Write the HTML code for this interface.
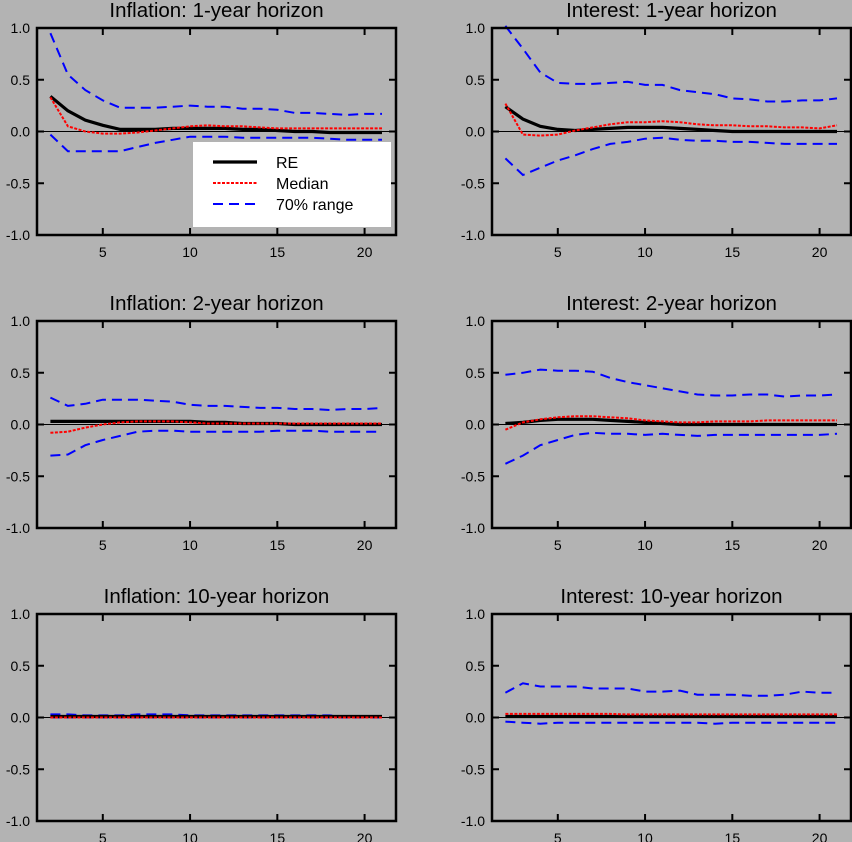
<!DOCTYPE html>
<html><head><meta charset="utf-8">
<style>
html,body{margin:0;padding:0;background:#b3b3b3;}
svg{display:block;font-family:"Liberation Sans",Arial,sans-serif;}
</style></head>
<body>
<svg id="fig" width="852" height="842" viewBox="0 0 852 842" xmlns="http://www.w3.org/2000/svg">
<rect x="0" y="0" width="852" height="842" fill="#b3b3b3"/>
</svg>
<script>
const horizons = [2,3,4,5,6,7,8,9,10,11,12,13,14,15,16,17,18,19,20,21];
const xTicks = [5,10,15,20];
const yTicks = [1.0,0.5,0.0,-0.5,-1.0];
const yTickLabels = ["1.0","0.5","0.0","-0.5","-1.0"];
const panelTitles = ["Inflation: 1-year horizon","Interest: 1-year horizon","Inflation: 2-year horizon","Interest: 2-year horizon","Inflation: 10-year horizon","Interest: 10-year horizon"];

const infl1RE = [0.34,0.2,0.11,0.06,0.02,0.02,0.02,0.03,0.03,0.03,0.03,0.02,0.02,0.01,0.0,0.0,-0.01,-0.01,-0.01,-0.01];
const infl1Med = [0.33,0.05,0.0,-0.02,-0.02,-0.01,0.01,0.03,0.05,0.06,0.05,0.05,0.04,0.03,0.03,0.03,0.03,0.03,0.03,0.03];
const infl1Up = [0.95,0.55,0.4,0.3,0.23,0.23,0.23,0.24,0.25,0.24,0.24,0.22,0.22,0.21,0.18,0.18,0.17,0.16,0.17,0.17];
const infl1Lo = [-0.03,-0.19,-0.19,-0.19,-0.19,-0.15,-0.11,-0.08,-0.05,-0.05,-0.05,-0.06,-0.06,-0.06,-0.06,-0.06,-0.07,-0.08,-0.08,-0.08];

const int1RE = [0.24,0.12,0.05,0.02,0.01,0.02,0.03,0.04,0.04,0.04,0.03,0.02,0.01,0.0,0.0,0.0,0.0,0.0,0.0,0.0];
const int1Med = [0.27,-0.03,-0.04,-0.03,0.01,0.04,0.07,0.09,0.09,0.1,0.09,0.07,0.06,0.06,0.05,0.05,0.04,0.04,0.03,0.06];
const int1Up = [1.02,0.8,0.57,0.47,0.46,0.46,0.47,0.48,0.45,0.45,0.4,0.38,0.36,0.32,0.31,0.29,0.29,0.3,0.3,0.32];
const int1Lo = [-0.26,-0.42,-0.35,-0.28,-0.23,-0.17,-0.12,-0.1,-0.07,-0.06,-0.08,-0.09,-0.09,-0.1,-0.1,-0.11,-0.12,-0.12,-0.12,-0.12];

const infl2RE = [0.03,0.03,0.03,0.03,0.03,0.03,0.03,0.03,0.03,0.02,0.02,0.01,0.01,0.01,0.0,0.0,0.0,0.0,0.0,0.0];
const infl2Med = [-0.08,-0.07,-0.03,0.0,0.02,0.03,0.03,0.03,0.02,0.01,0.01,0.01,0.01,0.01,0.01,0.01,0.01,0.01,0.01,0.01];
const infl2Up = [0.26,0.18,0.2,0.24,0.24,0.24,0.23,0.22,0.19,0.18,0.18,0.17,0.16,0.16,0.15,0.15,0.14,0.15,0.15,0.16];
const infl2Lo = [-0.3,-0.29,-0.2,-0.15,-0.11,-0.07,-0.06,-0.06,-0.07,-0.07,-0.07,-0.07,-0.07,-0.06,-0.06,-0.06,-0.07,-0.07,-0.07,-0.07];

const int2RE = [0.01,0.02,0.04,0.05,0.05,0.05,0.04,0.03,0.02,0.01,0.0,0.0,0.0,0.0,0.0,0.0,0.0,0.0,0.0,0.0];
const int2Med = [-0.05,0.02,0.05,0.07,0.08,0.08,0.07,0.06,0.04,0.03,0.02,0.02,0.03,0.03,0.03,0.04,0.04,0.04,0.04,0.04];
const int2Up = [0.48,0.5,0.53,0.52,0.52,0.51,0.45,0.41,0.38,0.35,0.32,0.29,0.28,0.28,0.29,0.29,0.27,0.28,0.28,0.29];
const int2Lo = [-0.38,-0.3,-0.2,-0.15,-0.1,-0.08,-0.09,-0.09,-0.1,-0.09,-0.1,-0.11,-0.1,-0.1,-0.1,-0.1,-0.1,-0.1,-0.1,-0.09];

const infl10RE = [0.01,0.01,0.01,0.01,0.01,0.01,0.01,0.01,0.01,0.01,0.01,0.01,0.01,0.01,0.01,0.01,0.01,0.01,0.01,0.01];
const infl10Med = [0.0,0.0,0.0,0.0,0.0,0.0,0.0,0.0,0.0,0.0,0.0,0.0,0.0,0.0,0.0,0.0,0.0,0.0,0.0,0.0];
const infl10Up = [0.03,0.03,0.02,0.02,0.02,0.03,0.03,0.03,0.02,0.02,0.02,0.02,0.02,0.02,0.02,0.02,0.02,0.01,0.01,0.01];
const infl10Lo = [0.0,0.0,0.0,0.0,0.0,0.0,0.0,0.0,0.0,0.0,0.0,0.0,0.0,0.0,0.0,0.0,0.0,0.0,0.0,0.0];

const int10RE = [0.01,0.01,0.01,0.01,0.01,0.01,0.01,0.01,0.01,0.01,0.01,0.01,0.01,0.01,0.01,0.01,0.01,0.01,0.01,0.01];
const int10Med = [0.035,0.035,0.035,0.035,0.035,0.035,0.035,0.03,0.03,0.03,0.03,0.03,0.03,0.03,0.03,0.03,0.03,0.03,0.03,0.03];
const int10Up = [0.24,0.33,0.3,0.3,0.3,0.28,0.28,0.28,0.25,0.25,0.26,0.22,0.22,0.22,0.21,0.21,0.22,0.25,0.24,0.24];
const int10Lo = [-0.04,-0.05,-0.06,-0.05,-0.05,-0.05,-0.05,-0.05,-0.05,-0.05,-0.05,-0.05,-0.06,-0.05,-0.05,-0.05,-0.05,-0.05,-0.05,-0.05];

const panelSeries = [
  [infl1RE,infl1Med,infl1Up,infl1Lo],
  [int1RE,int1Med,int1Up,int1Lo],
  [infl2RE,infl2Med,infl2Up,infl2Lo],
  [int2RE,int2Med,int2Up,int2Lo],
  [infl10RE,infl10Med,infl10Up,infl10Lo],
  [int10RE,int10Med,int10Up,int10Lo]
];

const NS = "http://www.w3.org/2000/svg";
const svg = document.getElementById("fig");
function mk(tag, attrs, parent){
  const e = document.createElementNS(NS, tag);
  for (const k in attrs) e.setAttribute(k, attrs[k]);
  (parent||svg).appendChild(e);
  return e;
}
const W = 359, H = 207, X0 = [37, 492], Y0 = [28, 321, 614];
const xMin = 1.23, xMax = 21.8;

for (let p = 0; p < 6; p++){
  const left = X0[p % 2], top = Y0[Math.floor(p / 2)];
  const sx = v => left + (v - xMin) / (xMax - xMin) * W;
  const sy = v => top + (1 - v) / 2 * H;
  const g = mk("g", {});
  
  

  const t = mk("text", {x: left + W / 2, y: top - 11, "text-anchor": "middle", "font-size": "20.5", fill: "#000"}, g);
  t.textContent = panelTitles[p];
  
  

  for (let i = 0; i < yTicks.length; i++){
    const y = sy(yTicks[i]);
    const lb = mk("text", {x: left - 7, y: y + 5, "text-anchor": "end", "font-size": "14", fill: "#000"}, g);
    lb.textContent = yTickLabels[i];
    
    
    mk("line", {x1: left, x2: left + 7, y1: y, y2: y, stroke: "#000", "stroke-width": 2}, g);
    mk("line", {x1: left + W - 7, x2: left + W, y1: y, y2: y, stroke: "#000", "stroke-width": 2}, g);
  }
  for (let i = 0; i < xTicks.length; i++){
    const x = sx(xTicks[i]);
    const lb = mk("text", {x: x, y: top + H + 22, "text-anchor": "middle", "font-size": "14", fill: "#000"}, g);
    lb.textContent = String(xTicks[i]);
    
    
    mk("line", {x1: x, x2: x, y1: top + H, y2: top + H - 7, stroke: "#000", "stroke-width": 2}, g);
    mk("line", {x1: x, x2: x, y1: top, y2: top + 7, stroke: "#000", "stroke-width": 2}, g);
  }
  const z = mk("line", {x1: left, x2: left + W, y1: sy(0), y2: sy(0), stroke: "#000", "stroke-width": 1}, g);
  
  

  const s = panelSeries[p];
  const styles = [
    {name: "re-line", stroke: "#000", w: 3.2, dash: null},
    {name: "median-line", stroke: "#ff0000", w: 2, dash: "3,1.5"},
    {name: "upper-70-range", stroke: "#0000ff", w: 2, dash: "10,6"},
    {name: "lower-70-range", stroke: "#0000ff", w: 2, dash: "10,6"}
  ];
  const order = [2, 3, 0, 1];
  for (const k of order){
    const pts = horizons.map((h, i) => sx(h).toFixed(1) + "," + sy(s[k][i]).toFixed(1)).join(" ");
    const a = {points: pts, fill: "none", stroke: styles[k].stroke, "stroke-width": styles[k].w};
    if (styles[k].dash) a["stroke-dasharray"] = styles[k].dash;
    const pl = mk("polyline", a, g);
    
    
  }
  const fr = mk("rect", {x: left, y: top, width: W, height: H, fill: "none", stroke: "#000", "stroke-width": 2.5}, g);
  
  

  if (p === 0){
    const lg = mk("g", {}, g);
    
    
    mk("rect", {x: 193, y: 142, width: 198, height: 85, fill: "#fff"}, lg);
    const entries = [["RE", 0], ["Median", 1], ["70% range", 2]];
    entries.forEach((e, i) => {
      const y = 162 + i * 21;
      const st = styles[e[1]];
      const a = {x1: 213, x2: 257, y1: y, y2: y, stroke: st.stroke, "stroke-width": st.w};
      if (st.dash) a["stroke-dasharray"] = st.dash;
      const ln = mk("line", a, lg);
      
      
      const tx = mk("text", {x: 276, y: y + 6, "font-size": "16", fill: "#000"}, lg);
      tx.textContent = e[0];
      
      
    });
  }
}
</script>
</body></html>
